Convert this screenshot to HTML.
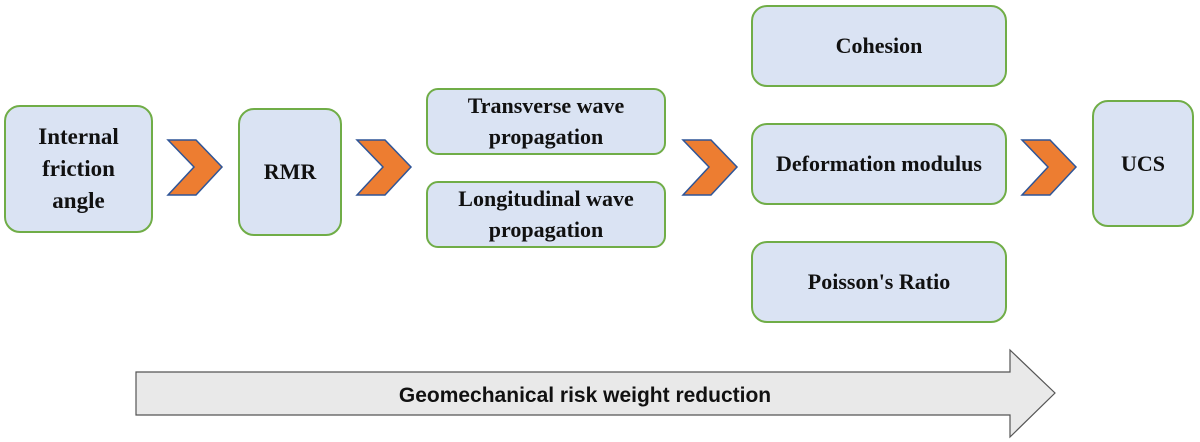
<!DOCTYPE html>
<html><head><style>
body{margin:0;width:1200px;height:442px;background:#fff;position:relative;overflow:hidden;font-family:"Liberation Serif",serif;}
.b{position:absolute;box-sizing:border-box;background:#dae3f3;border:2px solid #70ad47;border-radius:16px;display:flex;align-items:center;justify-content:center;text-align:center;font-weight:bold;font-size:22px;line-height:1.45;color:#111;}
svg{position:absolute;left:0;top:0;}
</style></head><body>
<svg width="1200" height="442">
<g fill="#ed7d31" stroke="#2f5597" stroke-width="1.5">
<polygon points="168,140 196,140 222,167 196,195 168,195 194,167"/>
<polygon points="357,140 385,140 411,167 385,195 357,195 383,167"/>
<polygon points="683,140 711,140 737,167 711,195 683,195 709,167"/>
<polygon points="1022,140 1050,140 1076,167 1050,195 1022,195 1048,167"/>
</g>
<polygon points="136,372 1010,372 1010,350 1055,393 1010,437 1010,415 136,415" fill="#e9e9e9" stroke="#555" stroke-width="1.2"/>
<text x="585" y="402" text-anchor="middle" font-family="Liberation Sans, sans-serif" font-weight="bold" font-size="21" fill="#111">Geomechanical risk weight reduction</text>
</svg>
<div class="b" style="left:4px;top:105px;width:149px;height:128px;font-size:23px;line-height:1.4;">Internal<br>friction<br>angle</div>
<div class="b" style="left:238px;top:108px;width:104px;height:128px;">RMR</div>
<div class="b" style="left:426px;top:88px;width:240px;height:67px;border-radius:12px;line-height:1.4;">Transverse wave<br>propagation</div>
<div class="b" style="left:426px;top:181px;width:240px;height:67px;border-radius:12px;line-height:1.4;">Longitudinal wave<br>propagation</div>
<div class="b" style="left:751px;top:5px;width:256px;height:82px;">Cohesion</div>
<div class="b" style="left:751px;top:123px;width:256px;height:82px;">Deformation modulus</div>
<div class="b" style="left:751px;top:241px;width:256px;height:82px;">Poisson's Ratio</div>
<div class="b" style="left:1092px;top:100px;width:102px;height:127px;">UCS</div>
</body></html>
